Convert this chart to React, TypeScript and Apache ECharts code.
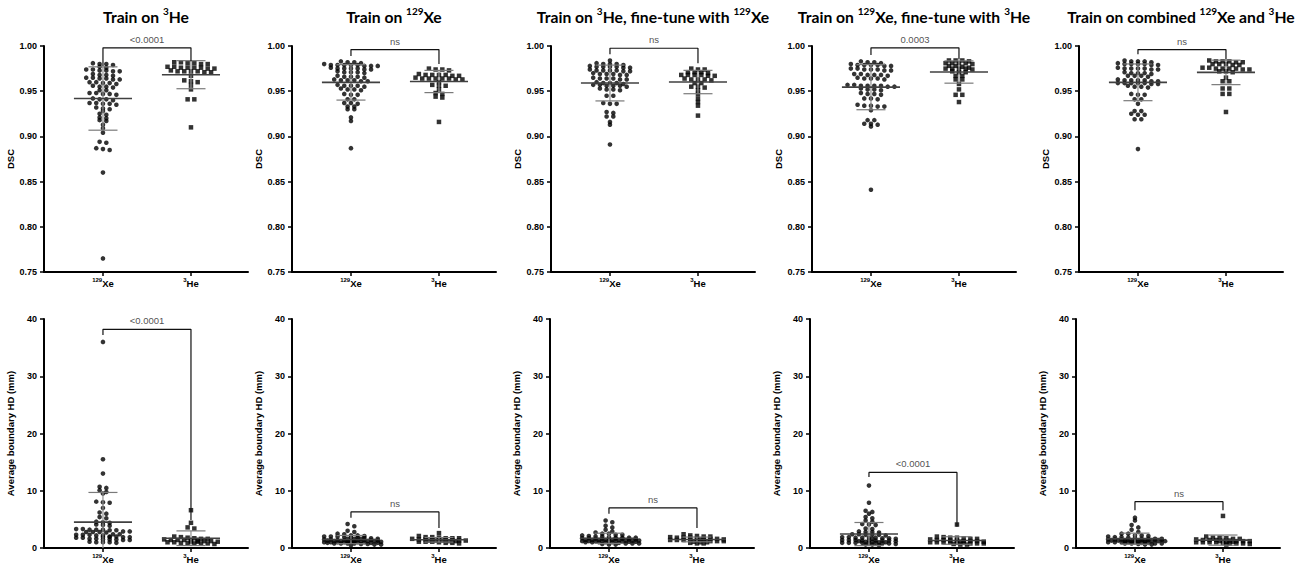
import React, { useEffect, useRef } from "react";
import * as echarts from "echarts";

// ---------- DATA ----------
const titles = [
  "{m|Train on }{s|3}{m|He}",
  "{m|Train on }{s|129}{m|Xe}",
  "{m|Train on }{s|3}{m|He, fine-tune with }{s|129}{m|Xe}",
  "{m|Train on }{s|129}{m|Xe, fine-tune with }{s|3}{m|He}",
  "{m|Train on combined }{s|129}{m|Xe and }{s|3}{m|He}",
];
const groupLabels = ["{s|129}{m|Xe}", "{s|3}{m|He}"];
const topYName = "DSC";
const botYName = "Average boundary HD (mm)";
const topTicks = { min: 0.75, max: 1.0, interval: 0.05 };
const botTicks = { min: 0, max: 40, interval: 10 };

// DSC, 129Xe test images
const dscXe1 = [0.981,0.980,0.979,0.980, 0.976,0.977, 0.973,0.974,0.972,0.973,0.974,0.972, 0.968,0.969,0.967,0.968, 0.964,0.965,0.963,0.964,0.965,0.963, 0.959,0.960,0.958,0.959,0.960, 0.955,0.956,0.954,0.955, 0.951,0.951, 0.947,0.948,0.946,0.947,0.948, 0.941,0.942,0.940,0.941, 0.936,0.937,0.935,0.936,0.937, 0.931,0.932,0.930, 0.928, 0.924,0.925, 0.921,0.920, 0.917,0.918, 0.913, 0.909, 0.904, 0.894,0.893, 0.886,0.887,0.885, 0.860, 0.765];
const dscXe2 = [0.983,0.982,0.982,0.981, 0.979,0.979,0.978,0.979,0.980,0.978,0.979,0.978,0.979, 0.975,0.974,0.975,0.976,0.974,0.975,0.975, 0.971,0.971,0.970,0.972,0.971, 0.966,0.967,0.966,0.965,0.966, 0.962,0.962,0.961,0.963,0.962,0.961, 0.956,0.957,0.955,0.956,0.956, 0.952,0.951,0.952,0.953, 0.946,0.947,0.946, 0.941,0.941, 0.937,0.936,0.937, 0.933,0.933, 0.930,0.930, 0.921, 0.917, 0.887];
const dscXe3 = [0.984, 0.980,0.980,0.981,0.979,0.980, 0.977,0.976,0.977,0.978,0.976,0.977,0.977, 0.973,0.973,0.972,0.974,0.973,0.972,0.973, 0.969,0.969,0.968,0.970,0.969,0.968, 0.964,0.964,0.963,0.965,0.964,0.963, 0.959,0.959,0.960,0.958,0.959, 0.956,0.956,0.957,0.955,0.956,0.957, 0.952,0.951,0.952,0.953, 0.945,0.945, 0.936,0.937,0.936, 0.927,0.926, 0.922,0.922, 0.916, 0.913, 0.891];
const dscXe4 = [0.983,0.982,0.981,0.982, 0.979,0.979,0.978,0.979,0.980,0.978,0.979, 0.974,0.975,0.974,0.973,0.974,0.975,0.973, 0.968,0.969,0.968,0.967,0.968,0.969, 0.964,0.963,0.964,0.965,0.964, 0.956,0.957,0.956,0.955,0.956,0.957,0.955,0.956, 0.952,0.951,0.952,0.953, 0.947,0.946,0.947,0.948, 0.942,0.942,0.941, 0.934,0.933,0.934,0.935,0.933, 0.929, 0.918,0.918, 0.914,0.914,0.913, 0.911, 0.841];
const dscXe5 = [0.983,0.983,0.982,0.984,0.983, 0.980,0.980,0.979,0.981,0.980,0.979,0.980, 0.975,0.975,0.974,0.976,0.975,0.974,0.975, 0.970,0.971,0.970,0.969,0.970, 0.967,0.966,0.967,0.967, 0.962,0.962,0.961,0.963,0.962,0.961,0.962, 0.959,0.958,0.959,0.959,0.958,0.959,0.959, 0.955,0.955,0.954,0.956, 0.946,0.947,0.946, 0.941,0.941, 0.936, 0.928,0.928, 0.924,0.924,0.925, 0.919,0.919, 0.886];

// DSC, 3He test images
const dscHe1 = [0.982,0.981,0.980,0.981,0.982,0.980, 0.976,0.977,0.975,0.976,0.977,0.975,0.976,0.976, 0.972,0.971,0.972,0.973,0.971,0.972,0.972, 0.967, 0.961,0.962,0.960, 0.957, 0.952, 0.941,0.941, 0.910];
const dscHe2 = [0.975,0.974,0.973,0.974, 0.968,0.967,0.968,0.969,0.967,0.968,0.968, 0.964,0.963,0.964,0.965,0.964,0.963,0.964,0.964, 0.960, 0.956,0.956,0.957, 0.952, 0.948,0.947, 0.944,0.943, 0.916];
const dscHe3 = [0.975,0.974,0.974, 0.971,0.971,0.970,0.971, 0.968,0.967,0.968,0.968,0.967,0.968, 0.963,0.963,0.962,0.964,0.963, 0.959,0.959, 0.955,0.955,0.954, 0.951, 0.947, 0.942, 0.938, 0.934, 0.923];
const dscHe4 = [0.984,0.984,0.983,0.984, 0.981,0.981,0.980,0.981,0.981, 0.978,0.978,0.977, 0.975,0.975,0.974,0.975,0.976,0.975, 0.971,0.971,0.972, 0.967,0.967, 0.963,0.963, 0.958, 0.952, 0.946,0.946, 0.938];
const dscHe5 = [0.983,0.983,0.982,0.984,0.983,0.982, 0.980,0.980,0.979,0.980,0.979, 0.975,0.975,0.976,0.974,0.975,0.975,0.976,0.974, 0.972,0.972,0.971, 0.965, 0.961,0.961, 0.953,0.953, 0.947,0.947, 0.927];

// Average boundary HD (mm), 129Xe
const hdXe1 = [36.0, 15.5, 13.0, 10.7, 10.5, 10.1, 9.8, 9.5, 8.1, 8.0, 7.9, 7.0, 6.2, 6.0, 5.4, 5.2, 4.6, 4.5, 4.4, 4.1, 4.0, 3.9, 3.3,3.2,3.1,3.2,3.3,3.1,3.2, 2.8,2.9,2.7,2.8,2.8,2.9, 2.3,2.4,2.2,2.3,2.3,2.4,2.2, 1.9,2.0,1.8,1.9,1.9,2.0,1.8,1.9, 1.5,1.6,1.4,1.5,1.5,1.6,1.4, 1.0,1.1,0.9,1.0,1.0];
const hdXe2 = [4.2, 3.8, 3.0, 2.8, 2.5, 2.4, 2.2,2.2,2.1, 2.0,2.0,1.9,2.0, 1.8,1.8,1.7,1.8, 1.6,1.6,1.5,1.6,1.6,1.5, 1.4,1.4,1.3,1.4,1.4,1.3,1.4,1.4, 1.2,1.2,1.1,1.2,1.2,1.1,1.2,1.2,1.2,1.1, 1.0,1.0,0.9,1.0,1.0,0.9,1.0,1.0,1.0,0.9, 0.8,0.8,0.7,0.8,0.8,0.7, 0.6,0.6,0.5];
const hdXe3 = [4.8, 4.5, 3.9, 3.6, 3.2, 2.9, 2.7, 2.5,2.5, 2.3,2.3,2.2, 2.0,2.0,2.1,1.9, 1.8,1.8,1.7,1.8,1.8, 1.6,1.6,1.5,1.6,1.6,1.7,1.6, 1.4,1.4,1.3,1.4,1.4,1.5,1.4,1.4,1.3, 1.2,1.2,1.1,1.2,1.2,1.3,1.2,1.2,1.1, 1.0,1.0,0.9,1.0,1.0,1.1,1.0, 0.8,0.8,0.7,0.8, 0.6,0.6];
const hdXe4 = [10.9, 7.9, 6.5, 6.3, 6.0, 5.4, 5.2, 4.8, 4.6, 4.1,4.2,4.0, 3.4,3.3, 2.8,2.9,2.7,2.8, 2.3,2.4,2.2,2.3,2.3,2.4, 1.8,1.9,1.7,1.8,1.8,1.9,1.7,1.8, 1.6,1.6, 1.3,1.4,1.2,1.3,1.3,1.4,1.2,1.3,1.3,1.4, 1.1,1.1,1.0, 0.9,0.9,0.8,0.9,0.9,1.0,0.8,0.9,0.9, 0.6,0.6,0.7,0.5];
const hdXe5 = [5.3, 4.8, 4.0, 3.6, 3.2, 2.8, 2.5,2.5, 2.2,2.2,2.1, 1.9,1.9,2.0,1.8, 1.6,1.6,1.5,1.6,1.7,1.6,1.5, 1.4,1.4,1.3,1.4,1.4,1.5,1.4,1.3,1.4, 1.2,1.2,1.1,1.2,1.2,1.3,1.2,1.2,1.1,1.2, 1.0,1.0,0.9,1.0,1.0,1.1,1.0,0.9, 0.8,0.8,0.7,0.8,0.8, 0.6,0.6];

// Average boundary HD (mm), 3He
const hdHe1 = [6.6, 4.4, 3.6, 3.4, 1.9,2.0,1.8, 1.6,1.7,1.6,1.5, 1.4,1.3,1.4,1.4,1.3, 1.1,1.2,1.0,1.1,1.1,1.2,1.0, 0.8,0.9,0.7,0.8,0.8,0.9];
const hdHe2 = [2.6, 2.1, 1.9,1.9, 1.7,1.7,1.8,1.7, 1.5,1.5,1.6,1.5,1.4,1.5, 1.3,1.3,1.2,1.3,1.3,1.4,1.3, 1.1,1.1,1.0,1.1,1.2, 0.9,0.9,0.8];
const hdHe3 = [2.4, 2.2, 2.0,2.0,2.1, 1.8,1.8,1.9,1.8, 1.6,1.6,1.7,1.6,1.5, 1.4,1.4,1.3,1.4,1.5,1.4, 1.2,1.2,1.1,1.2,1.3, 1.0,1.0,0.9, 0.8,0.8];
const hdHe4 = [4.1, 2.0,1.9, 1.8,1.8, 1.6,1.6,1.7, 1.4,1.4,1.5,1.3, 1.2,1.2,1.1,1.2,1.3, 1.0,1.0,0.9,1.0,1.1,1.0, 0.8,0.8,0.7,0.8,0.9, 0.6,0.6];
const hdHe5 = [5.6, 2.0, 1.8,1.8, 1.6,1.6,1.7, 1.4,1.4,1.3,1.4,1.5, 1.2,1.2,1.1,1.2,1.3,1.2, 1.0,1.0,0.9,1.0,1.1,1.0, 0.8,0.8,0.7,0.8, 0.6];

// significance brackets: [top, left end, right end] and labels
const topPLabels = ["<0.0001", "ns", "ns", "0.0003", "ns"];
const topBracketTop = [0.998, 0.996, 0.9975, 0.998, 0.996];
const topBracketLeft = [0.978, 0.989, 0.991, 0.99, 0.991];
const topBracketRight = [0.983, 0.98, 0.981, 0.985, 0.985];
const botPLabels = ["<0.0001", "ns", "ns", "<0.0001", "ns"];
const botBracketTop = [38.2, 6.3, 7.0, 13.2, 8.1];
const botBracketLeft = [37.2, 5.3, 6.0, 12.4, 6.6];
const botBracketRight = [4.9, 3.5, 3.5, 3.7, 6.6];

const dscXe = [dscXe1, dscXe2, dscXe3, dscXe4, dscXe5];
const dscHe = [dscHe1, dscHe2, dscHe3, dscHe4, dscHe5];
const hdXe = [hdXe1, hdXe2, hdXe3, hdXe4, hdXe5];
const hdHe = [hdHe1, hdHe2, hdHe3, hdHe4, hdHe5];

// ---------- LAYOUT ----------
const TOP_LEFTS = [44, 292, 551, 812, 1079];
const BOT_LEFTS = [44, 292, 550, 810, 1076];
const GRID_W = 204;
const TOP_Y = 46;
const TOP_H = 226;
const BOT_Y = 319;
const BOT_H = 229;
const X_MIN = -0.67;
const X_MAX = 1.648;
const X_PX = GRID_W / (X_MAX - X_MIN);
const DOT_SPACING = 6.7;
const MAX_ROW = 9;
const BIN_PX = 2.5;
const FONT = "'Liberation Sans', Arial, sans-serif";

function swarm(values: number[], center: number, yPx: number) {
  const sorted = [...values].sort((a, b) => b - a);
  const rows: number[][] = [];
  let cur: number[] = [];
  for (const v of sorted) {
    if (cur.length && (cur[0] - v) * yPx > BIN_PX) {
      rows.push(cur);
      cur = [];
    }
    cur.push(v);
  }
  if (cur.length) rows.push(cur);
  const out: number[][] = [];
  for (const row of rows) {
    const n = row.length;
    row.forEach((v, k) => {
      const layer = Math.floor(k / MAX_ROW);
      const idx = k % MAX_ROW;
      const m = Math.min(MAX_ROW, n - layer * MAX_ROW);
      let off = (idx - (m - 1) / 2) * DOT_SPACING;
      if (layer % 2 === 1) off += DOT_SPACING / 2;
      out.push([center + off / X_PX, v]);
    });
  }
  return out;
}

function meanSd(v: number[]) {
  const m = v.reduce((a, b) => a + b, 0) / v.length;
  const s = Math.sqrt(v.reduce((a, b) => a + (b - m) * (b - m), 0) / (v.length - 1));
  return [m, s];
}

const xRich = {
  s: { fontSize: 6, fontWeight: "bold", fontFamily: FONT, color: "#000", lineHeight: 7, verticalAlign: "top" },
  m: { fontSize: 9.5, fontWeight: "bold", fontFamily: FONT, color: "#000", lineHeight: 12 },
};
const titleRich = {
  s: { fontSize: 10, fontWeight: "bold", fontFamily: "Lato, sans-serif", fill: "#000", lineHeight: 11, verticalAlign: "top" },
  m: { fontSize: 15.7, fontWeight: "bold", fontFamily: "Lato, sans-serif", fill: "#000", lineHeight: 22 },
};

function buildOption() {
  const grid: any[] = [];
  const xAxis: any[] = [];
  const yAxis: any[] = [];
  const series: any[] = [];
  const graphic: any[] = [];

  for (let r = 0; r < 2; r++) {
    for (let c = 0; c < 5; c++) {
      const gi = r * 5 + c;
      const isTop = r === 0;
      const ticks = isTop ? topTicks : botTicks;
      const left = isTop ? TOP_LEFTS[c] : BOT_LEFTS[c];
      const top = isTop ? TOP_Y : BOT_Y;
      const h = isTop ? TOP_H : BOT_H;
      const yPx = h / (ticks.max - ticks.min);
      grid.push({ left, top, width: GRID_W, height: h });
      xAxis.push({
        gridIndex: gi,
        type: "value",
        min: X_MIN,
        max: X_MAX,
        axisLine: { show: true, onZero: false, lineStyle: { color: "#000", width: 2 } },
        axisTick: { show: true, customValues: [0, 1], length: 4, lineStyle: { color: "#000", width: 1.5 } },
        axisLabel: {
          show: true,
          customValues: [0, 1],
          margin: 5,
          formatter: (v: number) => (Math.round(v) === 0 ? groupLabels[0] : groupLabels[1]),
          rich: xRich,
        },
        splitLine: { show: false },
      });
      yAxis.push({
        gridIndex: gi,
        type: "value",
        min: ticks.min,
        max: ticks.max,
        interval: ticks.interval,
        name: isTop ? topYName : botYName,
        nameLocation: "middle",
        nameGap: isTop ? 27 : 29,
        nameTextStyle: { fontFamily: FONT, fontWeight: "bold", fontSize: 9.5, color: "#000" },
        axisLine: { show: true, onZero: false, lineStyle: { color: "#000", width: 2 } },
        axisTick: { show: true, length: 4, lineStyle: { color: "#000", width: 1.5 } },
        axisLabel: {
          margin: 7,
          fontFamily: FONT,
          fontWeight: "bold",
          fontSize: 9,
          color: "#000",
          formatter: (v: number) => (isTop ? v.toFixed(2) : String(Math.round(v))),
        },
        splitLine: { show: false },
      });

      const xe = isTop ? dscXe[c] : hdXe[c];
      const he = isTop ? dscHe[c] : hdHe[c];

      series.push({
        type: "scatter",
        xAxisIndex: gi,
        yAxisIndex: gi,
        symbol: "circle",
        symbolSize: 4.6,
        itemStyle: { color: "#000" },
        data: swarm(xe, 0, yPx),
        z: 2,
        silent: true,
      });
      series.push({
        type: "scatter",
        xAxisIndex: gi,
        yAxisIndex: gi,
        symbol: "rect",
        symbolSize: 4.5,
        itemStyle: { color: "#000" },
        data: swarm(he, 1, yPx),
        z: 2,
        silent: true,
      });

      const [mx, sx] = meanSd(xe);
      const [mh, sh] = meanSd(he);
      const yMin = ticks.min;
      series.push({
        type: "custom",
        xAxisIndex: gi,
        yAxisIndex: gi,
        z: 3,
        silent: true,
        data: [
          [0, mx, sx],
          [1, mh, sh],
        ],
        renderItem: (params: any, api: any) => {
          const cx = api.value(0);
          const m = api.value(1);
          const sd = api.value(2);
          const hi = m + sd;
          let lo = m - sd;
          const loVisible = lo >= yMin;
          if (!loVisible) lo = yMin;
          const seg = (x1: number, y1: number, x2: number, y2: number, stroke: string, w: number) => {
            const a = api.coord([x1, y1]);
            const b = api.coord([x2, y2]);
            return {
              type: "line",
              shape: { x1: a[0], y1: a[1], x2: b[0], y2: b[1] },
              style: { stroke, lineWidth: w },
            };
          };
          const children: any[] = [
            seg(cx, lo, cx, hi, "#909090", 1.2),
            seg(cx - 0.165, hi, cx + 0.165, hi, "#7a7a7a", 1.2),
            seg(cx - 0.33, m, cx + 0.33, m, "#404040", 1.6),
          ];
          if (loVisible) children.push(seg(cx - 0.165, lo, cx + 0.165, lo, "#7a7a7a", 1.2));
          return { type: "group", children };
        },
      });

      const bt = isTop ? topBracketTop[c] : botBracketTop[c];
      const bl = isTop ? topBracketLeft[c] : botBracketLeft[c];
      const br = isTop ? topBracketRight[c] : botBracketRight[c];
      series.push({
        type: "line",
        xAxisIndex: gi,
        yAxisIndex: gi,
        symbol: "none",
        silent: true,
        lineStyle: { color: "#111", width: 1.2 },
        data: [
          [0, bl],
          [0, bt],
          [1, bt],
          [1, br],
        ],
        z: 4,
      });
      series.push({
        type: "scatter",
        xAxisIndex: gi,
        yAxisIndex: gi,
        symbolSize: 1,
        silent: true,
        itemStyle: { color: "rgba(0,0,0,0)" },
        label: {
          show: true,
          position: "top",
          distance: 3,
          formatter: isTop ? topPLabels[c] : botPLabels[c],
          fontFamily: FONT,
          fontSize: 9.5,
          color: "#222",
        },
        data: [[0.5, bt]],
        z: 4,
      });

      if (isTop) {
        graphic.push({
          type: "text",
          x: left + GRID_W / 2,
          y: 17,
          style: {
            text: titles[c],
            rich: titleRich,
            align: "center",
            verticalAlign: "middle",
            fill: "#000",
          },
        });
      }
    }
  }

  return {
    animation: false,
    backgroundColor: "#fff",
    grid,
    xAxis,
    yAxis,
    series,
    graphic,
  };
}

export default function App() {
  const ref = useRef<HTMLDivElement>(null);
  useEffect(() => {
    if (!ref.current) return;
    const chart = echarts.init(ref.current, undefined, { renderer: "svg" });
    chart.setOption(buildOption() as any);
    return () => chart.dispose();
  }, []);
  return (
    <div
      ref={ref}
      style={{ position: "absolute", left: 0, top: 0, width: 1306, height: 566, background: "#fff" }}
    />
  );
}
